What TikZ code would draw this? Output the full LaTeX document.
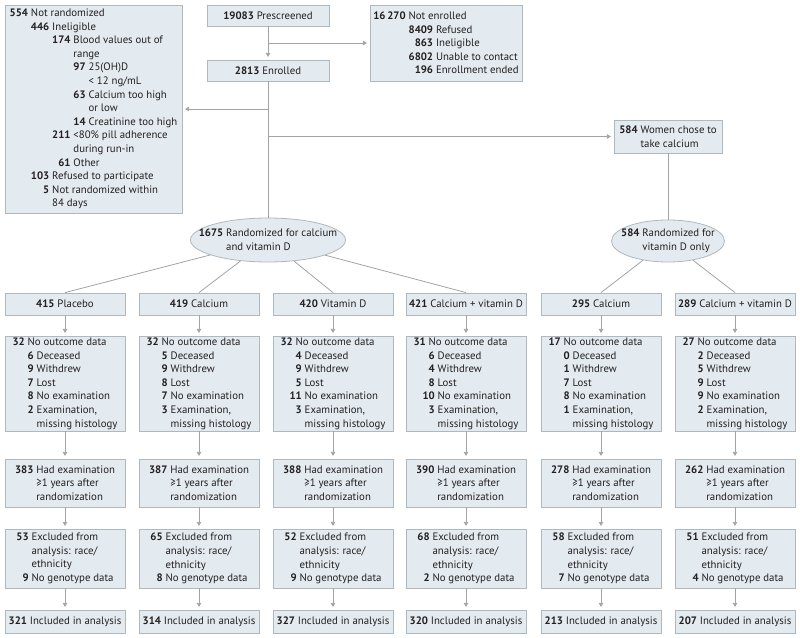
\documentclass[tikz,border=0pt]{standalone}
\usepackage{fontspec}
\setmainfont{PT Sans}
\usetikzlibrary{arrows.meta,shapes.geometric}
\definecolor{boxfill}{HTML}{E4EBF0}
\definecolor{boxline}{HTML}{AFB8BF}
\definecolor{conn}{HTML}{A3A3A3}
\definecolor{ink}{HTML}{231F20}
% right aligned bold count, then indent of the same width
\newcommand\rnum[2]{\hphantom{\textbf{#1}}\llap{\textbf{#2}}\ }
\newcommand\ind[1]{\hphantom{\textbf{#1}\ }}
\tikzset{
  txt/.style={text=ink,align=left,font=\fontsize{8.1}{10.2}\selectfont},
  box/.style={txt,draw=boxline,fill=boxfill,line width=0.6pt,inner sep=0pt},
  ellbox/.style={ellipse,draw=boxline,fill=boxfill,line width=0.6pt,inner sep=0pt},
  link/.style={draw=conn,line width=0.6pt},
  arr/.style={link,-{Triangle[width=3.4pt,length=3pt]},shorten >=2pt},
}
\begin{document}
\begin{tikzpicture}[x=0.75pt,y=-0.75pt]
\useasboundingbox (0,0) rectangle (800,638);
% screening and enrollment
\node[box,minimum width=91.5pt,minimum height=15.75pt] (pre) at (268,15.5) {\textbf{19083} Prescreened};
\node[box,minimum width=91.5pt,minimum height=15.75pt] (enr) at (268,70.5) {\textbf{2813} Enrolled};
\node[box,minimum width=114pt,minimum height=57pt] (noten) at (446,43) {%
  \textbf{16\,270}\ Not enrolled\\
  \ind{16\,270}\rnum{0000}{8409}Refused\\
  \ind{16\,270}\rnum{0000}{863}Ineligible\\
  \ind{16\,270}\rnum{0000}{6802}Unable to contact\\
  \ind{16\,270}\rnum{0000}{196}Enrollment ended};
\node[box,minimum width=132.75pt,minimum height=156pt] (nr) at (93.5,109) {%
  \rnum{000}{554}Not randomized\\
  \ind{000}\rnum{000}{446}Ineligible\\
  \ind{000}\ind{000}\rnum{000}{174}Blood values out of\\
  \ind{000}\ind{000}\ind{000}range\\
  \ind{000}\ind{000}\ind{000}\rnum{00}{97}25(OH)D\\
  \ind{000}\ind{000}\ind{000}\ind{00}< 12 ng/mL\\
  \ind{000}\ind{000}\ind{000}\rnum{00}{63}Calcium too high\\
  \ind{000}\ind{000}\ind{000}\ind{00}or low\\
  \ind{000}\ind{000}\ind{000}\rnum{00}{14}Creatinine too high\\
  \ind{000}\ind{000}\rnum{000}{211}<80\% pill adherence\\
  \ind{000}\ind{000}\ind{000}during run-in\\
  \ind{000}\ind{000}\rnum{000}{61}Other\\
  \ind{000}\rnum{000}{103}Refused to participate\\
  \ind{000}\rnum{000}{5}Not randomized within\\
  \ind{000}\ind{000}84 days};
\node[box,minimum width=81pt,minimum height=24.75pt] (women) at (668,136.5) {%
  \rnum{584}{584}Women chose to\\\ind{584}take calcium};
% randomization
\node[ellbox,minimum width=116.25pt,minimum height=33pt] (ell1) at (268,240) {};
\node[txt] (ell1t) at (ell1) {\rnum{1675}{1675}Randomized for calcium\\\ind{1675}and vitamin D};
\node[ellbox,minimum width=84.75pt,minimum height=31.5pt] (ell2) at (668,241) {};
\node[txt] (ell2t) at (ell2) {\rnum{584}{584}Randomized for\\\ind{584}vitamin D only};
\draw[arr] (pre) -- (enr);
\coordinate (b1) at (pre.south |- noten.west);
\draw[arr] (b1) -- (noten.west);
\draw[link] (enr) -- (ell1);
\coordinate (b2) at (enr.south |- nr.east);
\draw[arr] (b2) -- (nr.east);
\coordinate (b3) at (enr.south |- women.west);
\draw[arr] (b3) -- (women.west);
\draw[link] (women) -- (ell2);
% the six arms
\foreach \i/\x/\n/\lab/\no/\da/\db/\dc/\dd/\de/\had/\exc/\gen/\inc in {
  1/65/415/Placebo/32/6/9/7/8/2/383/53/9/321,
  2/199/419/Calcium/32/5/9/8/7/3/387/65/8/314,
  3/333/420/Vitamin D/32/4/9/5/11/3/388/52/9/327,
  4/466/421/Calcium + vitamin D/31/6/4/8/10/3/390/68/2/320,
  5/601/295/Calcium/17/0/1/7/8/1/278/58/7/213,
  6/735/289/Calcium + vitamin D/27/2/5/9/9/2/262/51/4/207}
{
  \node[box,minimum width=90pt,minimum height=16.5pt] (g\i) at (\x,304) {\textbf{\n} \lab};
  \node[box,minimum width=90pt,minimum height=71.25pt] (o\i) at (\x,383.5) {%
    \rnum{00}{\no}No outcome data\\
    \ind{00}\rnum{0}{\da}Deceased\\
    \ind{00}\rnum{0}{\db}Withdrew\\
    \ind{00}\rnum{0}{\dc}Lost\\
    \ind{00}\rnum{0}{\dd}No examination\\
    \ind{00}\rnum{0}{\de}Examination,\\
    \ind{00}\ind{0}missing histology};
  \node[box,minimum width=90pt,minimum height=36pt] (e\i) at (\x,483) {%
    \rnum{000}{\had}Had examination\\
    \ind{000}≥1 years after\\
    \ind{000}randomization};
  \node[box,minimum width=90pt,minimum height=44.25pt] (x\i) at (\x,558.5) {%
    \rnum{00}{\exc}Excluded from\\
    \ind{00}analysis: race/\\
    \ind{00}ethnicity\\
    \rnum{00}{\gen}No genotype data};
  \node[box,minimum width=90pt,minimum height=17.25pt] (f\i) at (\x,621.5) {\textbf{\inc} Included in analysis};
  \draw[arr] (g\i) -- (o\i);
  \draw[arr] (o\i) -- (e\i);
  \draw[arr] (e\i) -- (x\i);
  \draw[arr] (x\i) -- (f\i);
}
\foreach \k in {1,2,3,4}
  \draw[link] (ell1) -- (g\k.north);
\foreach \k in {5,6}
  \draw[link] (ell2) -- (g\k.north);
\end{tikzpicture}
\end{document}
